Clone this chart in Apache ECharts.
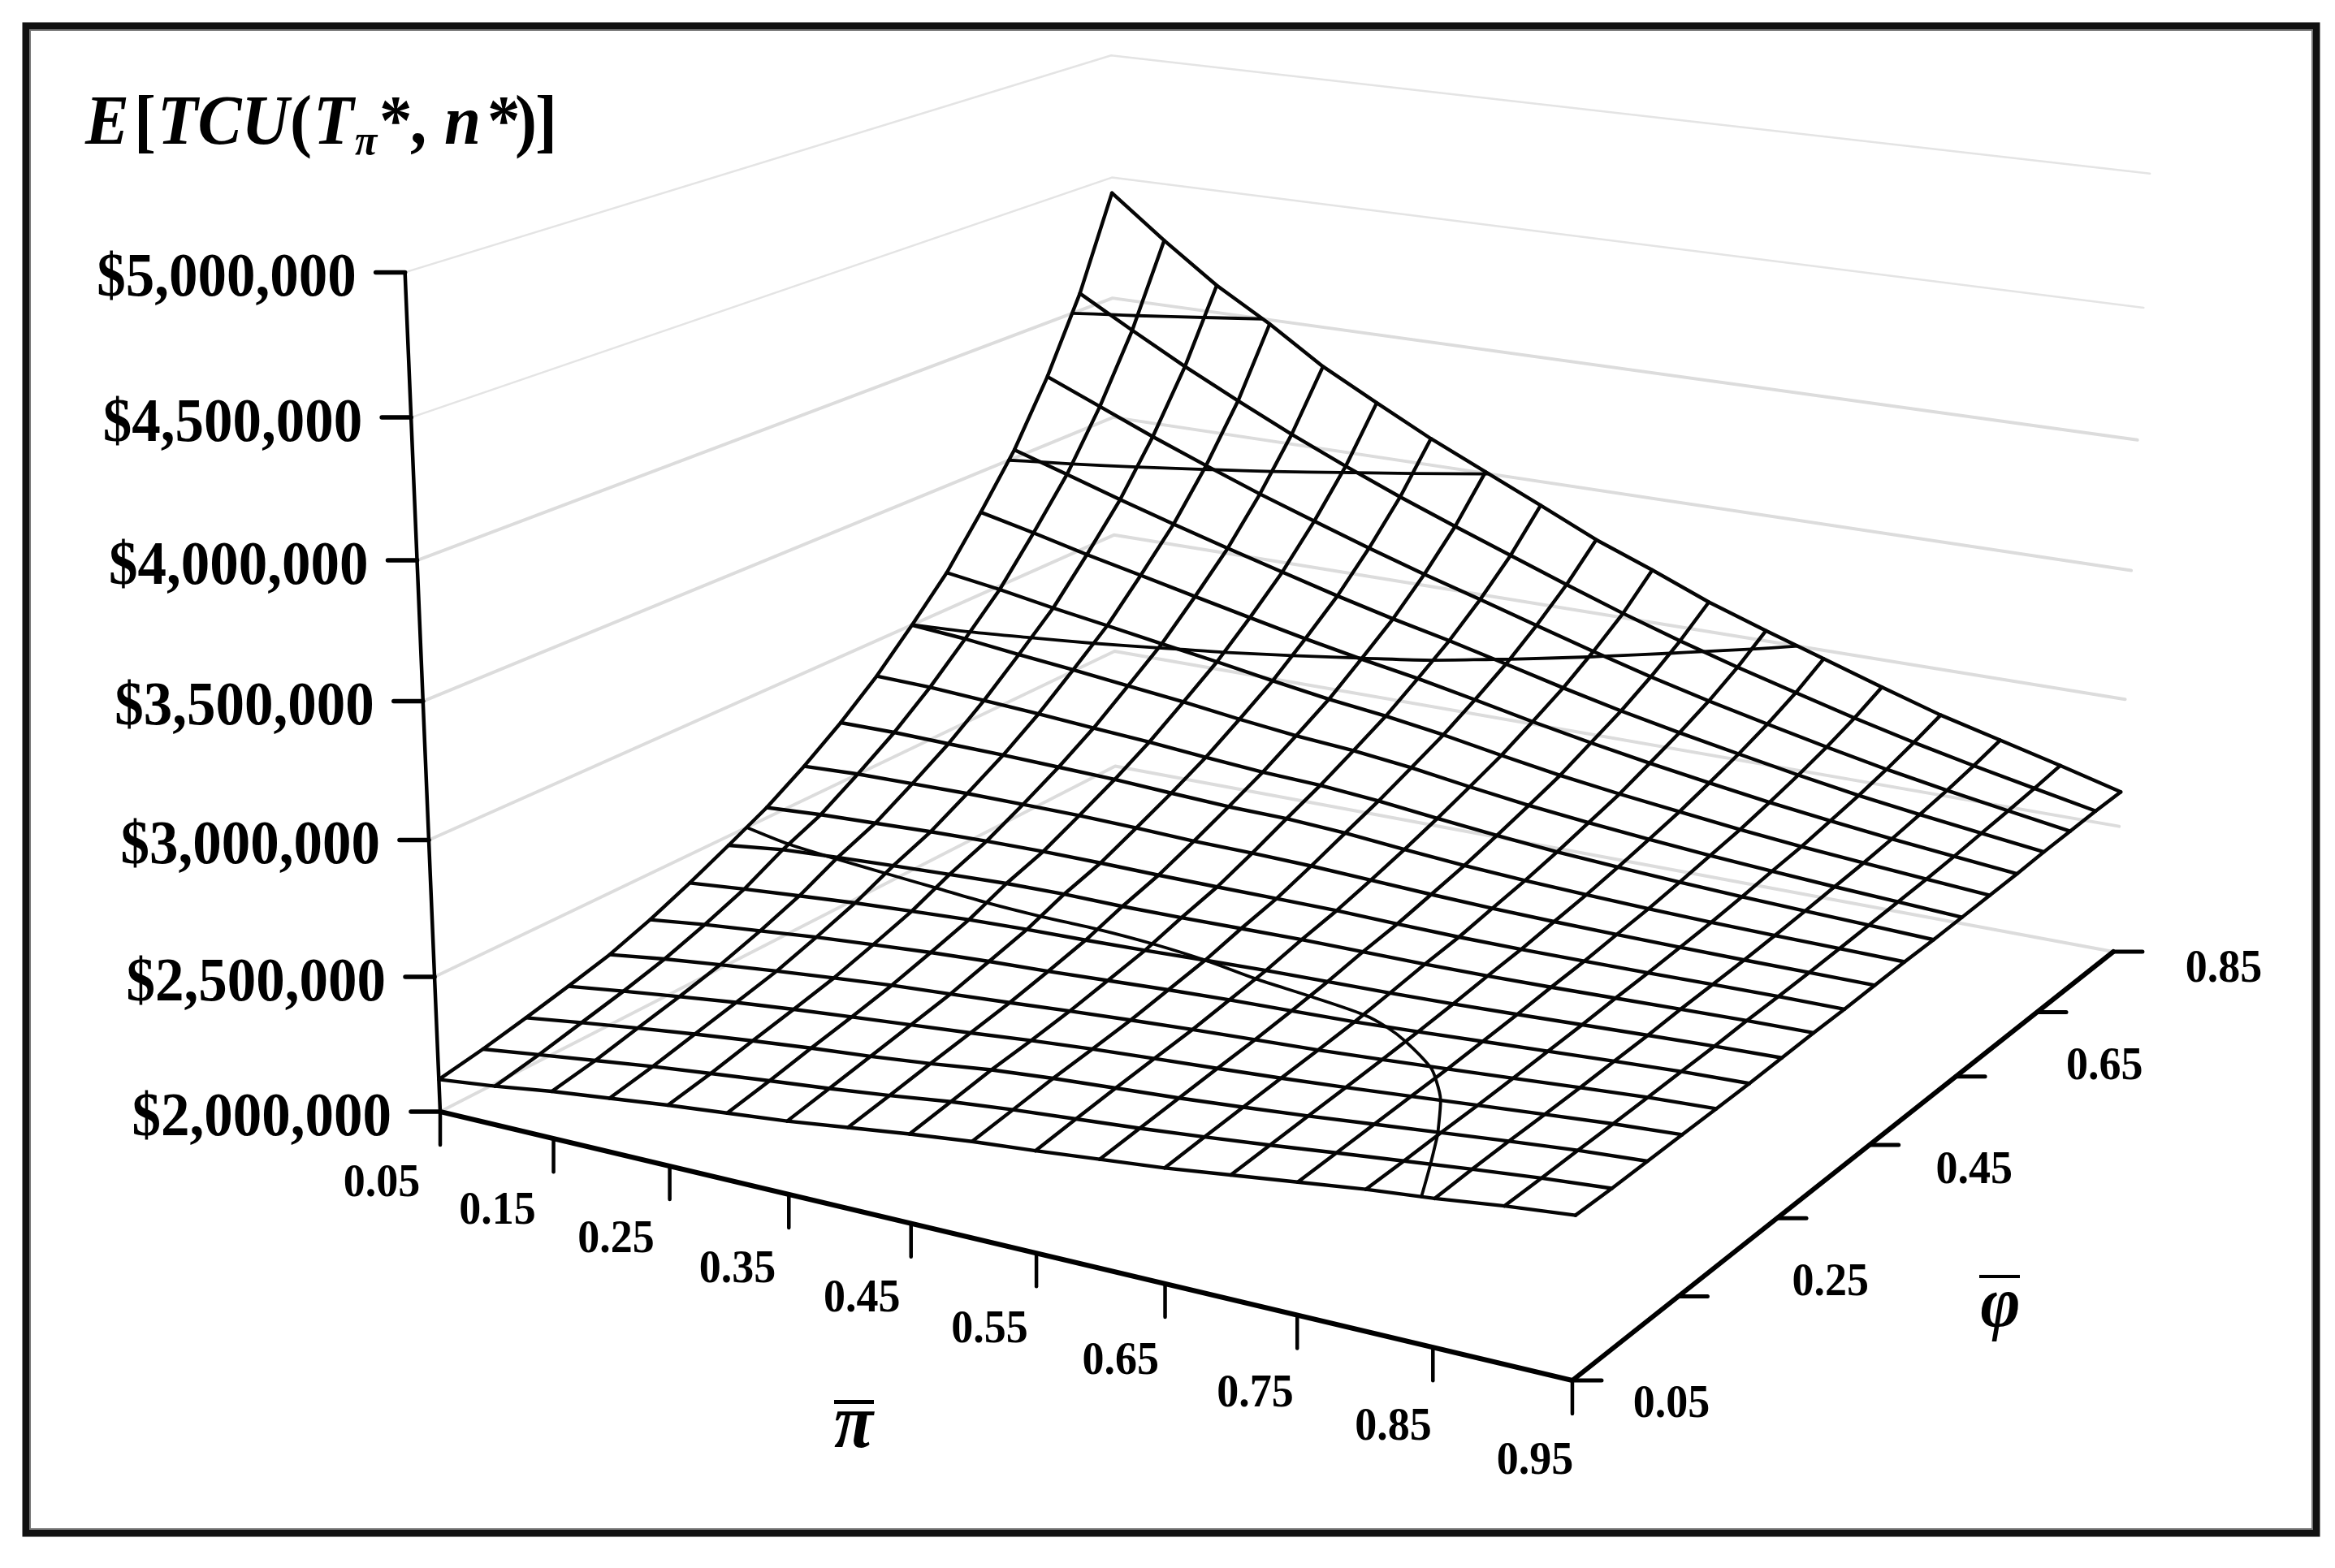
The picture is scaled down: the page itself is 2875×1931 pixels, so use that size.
<!DOCTYPE html>
<html><head><meta charset="utf-8">
<style>html,body{margin:0;padding:0;background:#fff}#c{width:2875px;height:1931px}</style>
<script src="https://cdn.jsdelivr.net/npm/echarts@6/dist/echarts.min.js"></script>
</head><body><div id="c"></div>
<script>
// ---- Data ($ thousands); one array per phi mesh line, running along pi
const piValues = [0.05,0.10,0.15,0.20,0.25,0.30,0.35,0.40,0.45,0.50,0.55,0.60,0.65,0.70,0.75,0.80,0.85,0.90,0.95];
const tcu_phi00 = [2120,2144,2174,2198,2222,2243,2264,2291,2318,2342,2360,2381,2402,2429,2456,2483,2504,2531,2552];
const tcu_phi01 = [2150,2177,2204,2230,2253,2275,2296,2320,2347,2368,2385,2402,2422,2444,2468,2491,2514,2535,2552];
const tcu_phi02 = [2186,2215,2242,2267,2290,2311,2329,2351,2377,2395,2409,2423,2440,2459,2480,2501,2522,2541,2555];
const tcu_phi03 = [2225,2253,2279,2304,2325,2344,2362,2380,2400,2417,2431,2444,2458,2474,2492,2510,2528,2545,2558];
const tcu_phi04 = [2267,2296,2320,2342,2362,2381,2395,2410,2426,2440,2453,2464,2475,2489,2504,2520,2536,2551,2561];
const tcu_phi05 = [2324,2350,2371,2392,2409,2425,2437,2446,2458,2470,2480,2487,2494,2506,2519,2532,2545,2557,2564];
const tcu_phi06 = [2391,2411,2429,2446,2459,2471,2479,2484,2491,2500,2508,2513,2518,2525,2534,2544,2554,2563,2570];
const tcu_phi07 = [2464,2490,2503,2514,2524,2533,2536,2534,2536,2540,2544,2544,2544,2547,2552,2559,2566,2572,2576];
const tcu_phi08 = [2540,2554,2563,2572,2578,2581,2580,2577,2576,2576,2575,2570,2566,2566,2568,2571,2575,2578,2579];
const tcu_phi09 = [2633,2643,2646,2649,2648,2647,2641,2633,2630,2624,2614,2604,2596,2591,2588,2586,2585,2585,2585];
const tcu_phi10 = [2738,2739,2734,2730,2723,2716,2704,2693,2689,2676,2656,2638,2625,2615,2607,2601,2597,2594,2591];
const tcu_phi11 = [2858,2852,2838,2824,2808,2793,2773,2756,2746,2727,2702,2679,2659,2644,2631,2620,2611,2603,2594];
const tcu_phi12 = [2999,2981,2956,2933,2908,2883,2854,2829,2811,2785,2752,2722,2697,2676,2657,2641,2626,2613,2600];
const tcu_phi13 = [3149,3117,3079,3045,3010,2976,2939,2905,2878,2844,2804,2767,2736,2709,2683,2660,2641,2623,2606];
const tcu_phi14 = [3335,3286,3233,3185,3136,3088,3041,2998,2959,2914,2867,2824,2785,2749,2715,2686,2659,2635,2612];
const tcu_phi15 = [3533,3466,3397,3332,3269,3209,3149,3094,3044,2989,2933,2881,2835,2792,2750,2712,2680,2650,2621];
const tcu_phi16 = [3779,3688,3597,3512,3430,3354,3280,3210,3145,3078,3012,2949,2892,2840,2790,2743,2702,2664,2627];
const tcu_phi17 = [4070,3948,3830,3721,3616,3519,3428,3343,3261,3179,3100,3027,2960,2897,2836,2779,2728,2680,2633];
const tcu_phi18 = [4436,4268,4112,3983,3839,3722,3608,3506,3404,3299,3212,3119,3041,2966,2891,2819,2759,2699,2636];
const tcuByPhi = [tcu_phi00,tcu_phi01,tcu_phi02,tcu_phi03,tcu_phi04,tcu_phi05,tcu_phi06,tcu_phi07,tcu_phi08,tcu_phi09,
                  tcu_phi10,tcu_phi11,tcu_phi12,tcu_phi13,tcu_phi14,tcu_phi15,tcu_phi16,tcu_phi17,tcu_phi18];
const zTicks = [2000,2500,3000,3500,4000,4500,5000];
const zTickLabels = ['$2,000,000','$2,500,000','$3,000,000','$3,500,000','$4,000,000','$4,500,000','$5,000,000'];
const contourLevels = [2500,3000,3500,4000];
const piTicks = [0.05,0.15,0.25,0.35,0.45,0.55,0.65,0.75,0.85,0.95];
const piTickLabels = ['0.05','0.15','0.25','0.35','0.45','0.55','0.65','0.75','0.85','0.95'];
const phiLabelValues = [0.05,0.25,0.45,0.65,0.85];
const phiLabels = ['0.05','0.25','0.45','0.65','0.85'];
const phiTickCount = 7;

// ---- View of the box: maps (pi, phi, $) to the page through a perspective camera
const PI0=0.05, PI1=0.95, PHI0=0.05, PHI1=0.85, Z0=2000, Z1=5000;
const camX=[542,1181,1097.5,-64.8], camY=[1369,144,-242.5,-1048], camW=[1,-0.11,0.194,-0.043];
function proj(pi,phi,z){
  const u=(pi-PI0)/(PI1-PI0), v=(phi-PHI0)/(PHI1-PHI0), w=(z-Z0)/(Z1-Z0);
  const d=camW[0]+camW[1]*u+camW[2]*v+camW[3]*w;
  return [(camX[0]+camX[1]*u+camX[2]*v+camX[3]*w)/d,(camY[0]+camY[1]*u+camY[2]*v+camY[3]*w)/d];
}
const nPhi=tcuByPhi.length;
const phiAt=k=>PHI0+(PHI1-PHI0)*k/(nPhi-1);

const series=[];
function addLine(name,pts,color,width,smooth){
  series.push({type:'line',name,data:pts,showSymbol:false,symbol:'none',silent:true,clip:false,animation:false,
    smooth:smooth||false,lineStyle:{color,width,cap:'round',join:'round'},itemStyle:{color}});
}
zTicks.forEach(z=>{
  const thin=z>=4500;
  addLine('wall '+z,[proj(PI0,PHI0,z),proj(PI0,PHI1,z),proj(PI1,PHI1,z)],thin?'#e4e4e4':'#dcdcdc',thin?2.5:4);
});
addLine('z axis',[proj(PI0,PHI0,Z1),proj(PI0,PHI0,Z0)],'#000',4.5);
addLine('pi axis',[proj(PI0,PHI0,Z0),proj(PI1,PHI0,Z0)],'#000',6);
addLine('phi axis',[proj(PI1,PHI0,Z0),proj(PI1,PHI1,Z0)],'#000',6);
function offset(p,dx,dy){return [p[0]+dx,p[1]+dy];}
zTicks.forEach(z=>{const p=proj(PI0,PHI0,z);addLine('z tick',[offset(p,-36,0),p],'#000',5.5);});
piTicks.forEach(t=>{const p=proj(t,PHI0,Z0);addLine('pi tick',[p,offset(p,0,41)],'#000',4.5);});
for(let j=0;j<phiTickCount;j++){
  const p=proj(PI1,PHI0+(PHI1-PHI0)*j/(phiTickCount-1),Z0);
  addLine('phi tick',[p,offset(p,36,0)],'#000',5);
}
piValues.forEach((pi,i)=>{
  addLine('pi '+pi,tcuByPhi.map((row,k)=>proj(pi,phiAt(k),row[i])),'#050505',4.4);
});
tcuByPhi.forEach((row,k)=>{
  addLine('phi '+k,piValues.map((pi,i)=>proj(pi,phiAt(k),row[i])),'#050505',4.4);
});
function contour(level){
  const segs=[];
  const cross=(i0,k0,i1,k1)=>{
    const a=tcuByPhi[k0][i0],b=tcuByPhi[k1][i1];
    if((a<level)===(b<level))return null;
    const t=(level-a)/(b-a);
    return {key:[i0,k0,i1,k1].join(),p:proj(piValues[i0]+(piValues[i1]-piValues[i0])*t,phiAt(k0+(k1-k0)*t),level)};
  };
  for(let i=0;i<piValues.length-1;i++)for(let k=0;k<nPhi-1;k++){
    const c=[cross(i,k,i+1,k),cross(i+1,k,i+1,k+1),cross(i,k+1,i+1,k+1),cross(i,k,i,k+1)].filter(Boolean);
    if(c.length===2)segs.push(c);
    if(c.length===4){segs.push([c[0],c[1]]);segs.push([c[2],c[3]]);}
  }
  const out=[];
  while(segs.length){
    const s=segs.pop();const chain=[s[0],s[1]];
    let grown=true;
    while(grown){grown=false;
      for(let n=0;n<segs.length;n++){
        const g=segs[n],last=chain[chain.length-1],first=chain[0];
        if(g[0].key===last.key){chain.push(g[1]);}
        else if(g[1].key===last.key){chain.push(g[0]);}
        else if(g[0].key===first.key){chain.unshift(g[1]);}
        else if(g[1].key===first.key){chain.unshift(g[0]);}
        else continue;
        segs.splice(n,1);grown=true;break;
      }
    }
    out.push(chain.map(c=>c.p));
  }
  return out;
}
contourLevels.forEach(l=>contour(l).forEach(pl=>addLine('contour '+l,pl,'#050505',3.8,0.3)));

// ---- Texts, anchored on the projected axes
const SERIF='"Liberation Serif"';
const texts=[];
function addText(text,p,size,align,style){texts.push({text,x:p[0],y:p[1],size,align,style:style||'normal'});}
zTicks.forEach((z,i)=>addText(zTickLabels[i],offset(proj(PI0,PHI0,z),-60,9),71,'right'));
piTicks.forEach((t,i)=>{const u=(t-PI0)/(PI1-PI0);addText(piTickLabels[i],offset(proj(t,PHI0,Z0),-72+26*u,89+11*u),54,'center');});
phiLabelValues.forEach((t,i)=>{const v=(t-PHI0)/(PHI1-PHI0);addText(phiLabels[i],offset(proj(PI1,t,Z0),122+14*v,30-8*v+22*v*(1-v)),54,'center');});
const titleY=155;
addText('E',[105,titleY],81,'left','italic');
addText('[',[165,titleY],81,'left');
addText('TCU',[194,titleY],81,'left','italic');
addText('(',[357,titleY],81,'left');
addText('T',[386,titleY],81,'left','italic');
addText('\u03c0',[437,176],50,'left','italic');
addText('*',[467,titleY],81,'left');
addText(',',[505,titleY],81,'left');
addText('n',[547,titleY],81,'left','italic');
addText('*',[600,titleY],81,'left');
addText(')',[634,titleY],81,'left');
addText(']',[659,titleY],81,'left');
addText('\u03c0',[1051,1758],88,'center','italic');
addText('\u03c6',[2463,1610],84,'center','italic');

series.push({type:'custom',name:'texts',silent:true,animation:false,clip:false,
  coordinateSystem:'cartesian2d',data:texts.map((t,i)=>[t.x,t.y,i]),
  encode:{x:0,y:1},
  renderItem(params,api){
    const t=texts[api.value(2)],c=api.coord([api.value(0),api.value(1)]);
    return {type:'text',x:c[0],y:c[1],scaleY:1.07,silent:true,style:{text:t.text,fill:'#000',
      fontFamily:SERIF,fontSize:t.size,fontWeight:'bold',fontStyle:t.style,
      align:t.align,verticalAlign:'middle',textAlign:t.align,textVerticalAlign:'middle'}};
  }});

const chart=echarts.init(document.getElementById('c'),null,{renderer:'canvas',width:2875,height:1931});
chart.setOption({
  animation:false,backgroundColor:'#fff',
  grid:{left:0,right:0,top:0,bottom:0},
  xAxis:{type:'value',min:0,max:2875,show:false},
  yAxis:{type:'value',min:0,max:1931,inverse:true,show:false},
  graphic:[
    {type:'rect',z:100,shape:{x:32,y:32,width:2820,height:1856},style:{fill:null,stroke:'#111',lineWidth:9}},
    {type:'rect',z:101,shape:{x:37,y:37,width:2810,height:1846},style:{fill:null,stroke:'#777',lineWidth:2}},
    {type:'rect',z:50,shape:{x:1027,y:1724,width:49,height:5},style:{fill:'#000'}},
    {type:'rect',z:50,shape:{x:2437,y:1570,width:50,height:4},style:{fill:'#000'}}
  ],
  series
});
</script></body></html>
